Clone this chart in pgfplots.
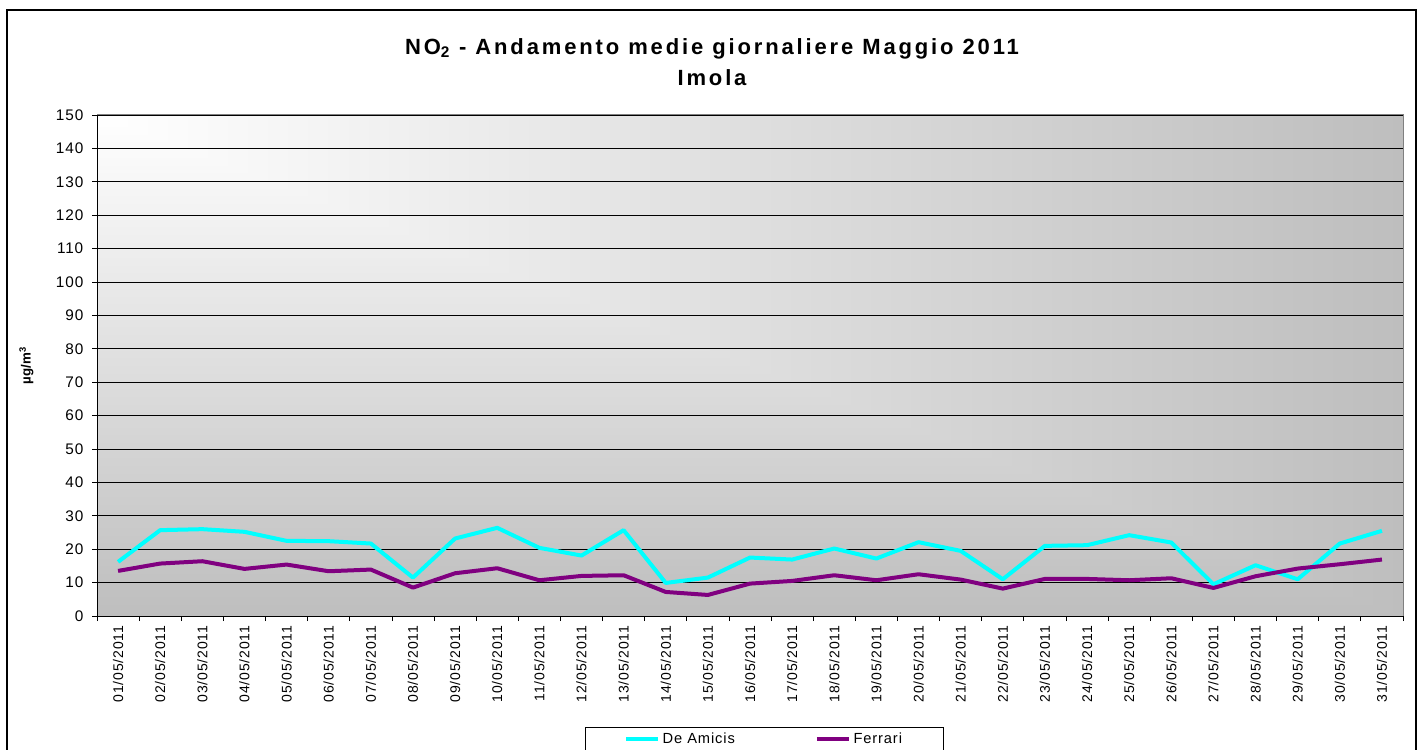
\documentclass[border=0pt]{standalone}
\usepackage{fontspec}
\setmainfont{Liberation Sans}
\newfontfamily\ticksfont[LetterSpace=6]{Liberation Sans}
\newfontfamily\titlefont[LetterSpace=13]{Liberation Sans}
\usepackage{pgfplots}
\pgfplotsset{compat=1.18}
\definecolor{bgray}{RGB}{190,190,190}
\definecolor{deamicis}{RGB}{0,255,255}
\definecolor{ferrari}{RGB}{128,0,128}
\pgfplotstableread{
day deamicis ferrari
1 16.2 13.5
2 25.7 15.7
3 26.0 16.4
4 25.2 14.1
5 22.5 15.4
6 22.4 13.4
7 21.7 13.9
8 11.5 8.5
9 23.2 12.8
10 26.4 14.3
11 20.4 10.7
12 18.1 12.0
13 25.7 12.2
14 9.9 7.2
15 11.5 6.3
16 17.5 9.7
17 16.9 10.5
18 20.2 12.2
19 17.2 10.7
20 22.1 12.5
21 19.5 10.9
22 11.0 8.2
23 21.0 11.1
24 21.2 11.1
25 24.2 10.7
26 22.0 11.3
27 9.5 8.4
28 15.2 11.9
29 11.0 14.2
30 21.7 15.5
31 25.5 16.9
}\datatable
\begin{document}
\begin{tikzpicture}
\useasboundingbox (0pt,0pt) rectangle (1064.25pt,561.75pt);
\draw[black, line width=0.9pt] (5.25pt,-7pt) rectangle (1062pt,554.25pt);
\node[font=\fontsize{16.5}{23.5}\titlefont\bfseries, align=center] at (534pt,515pt) {NO\textsubscript{2} - Andamento medie giornaliere Maggio 2011\\Imola};
\begin{axis}[
  at={(72.75pt,99.75pt)}, anchor=south west,
  scale only axis,
  width=979.5pt, height=375.75pt,
  xmin=0.5, xmax=31.5,
  ymin=0, ymax=150,
  ytick={0,10,...,150},
  xtick={0.5,1.5,...,31.5},
  x tick label as interval,
  xticklabels={01/05/2011,02/05/2011,03/05/2011,04/05/2011,05/05/2011,06/05/2011,07/05/2011,08/05/2011,09/05/2011,10/05/2011,11/05/2011,12/05/2011,13/05/2011,14/05/2011,15/05/2011,16/05/2011,17/05/2011,18/05/2011,19/05/2011,20/05/2011,21/05/2011,22/05/2011,23/05/2011,24/05/2011,25/05/2011,26/05/2011,27/05/2011,28/05/2011,29/05/2011,30/05/2011,31/05/2011},
  axis x line*=bottom, axis y line*=left,
  axis line style={black, line width=0.75pt, -},
  tick align=outside,
  major tick length=3.75pt,
  tick style={black, line width=0.6pt},
  ymajorgrids,
  major grid style={black, line width=0.6pt},
  xticklabel style={font=\fontsize{10.5}{12}\ticksfont, rotate=90, anchor=east},
  yticklabel style={font=\fontsize{11.5}{12}\ticksfont, xshift=-3pt},
  /pgf/number format/assume math mode=true,
  ylabel={\textbf{µg/m\textsuperscript{3}}},
  ylabel style={font=\fontsize{10}{12}\selectfont, at={(-0.045,0.5)}, anchor=south},
  axis background/.style={fill=bgray, draw=gray, line width=0.75pt, path picture={
     \shade[left color=white, right color=bgray] (path picture bounding box.north west) rectangle (path picture bounding box.south east);
     \shade[top color=white, bottom color=bgray] (path picture bounding box.north west) -- (path picture bounding box.south west) -- (path picture bounding box.south east) -- cycle;}},
  legend style={at={(0.511,-0.2216)}, anchor=north, legend columns=2, draw=black, fill=white, line width=0.6pt,
     font=\fontsize{11}{12}\ticksfont, inner xsep=29pt, inner ysep=2pt,
     /tikz/every even column/.append style={column sep=58pt}},
  legend image code/.code={\draw[#1, line width=3pt] (0pt,0pt) -- (24pt,0pt);},
  clip=false,
]
\addplot[deamicis, line width=3pt, line join=round] table[x=day, y=deamicis] {\datatable};
\addlegendentry{De Amicis}
\addplot[ferrari, line width=3pt, line join=round] table[x=day, y=ferrari] {\datatable};
\addlegendentry{Ferrari}
\end{axis}
\end{tikzpicture}
\end{document}
